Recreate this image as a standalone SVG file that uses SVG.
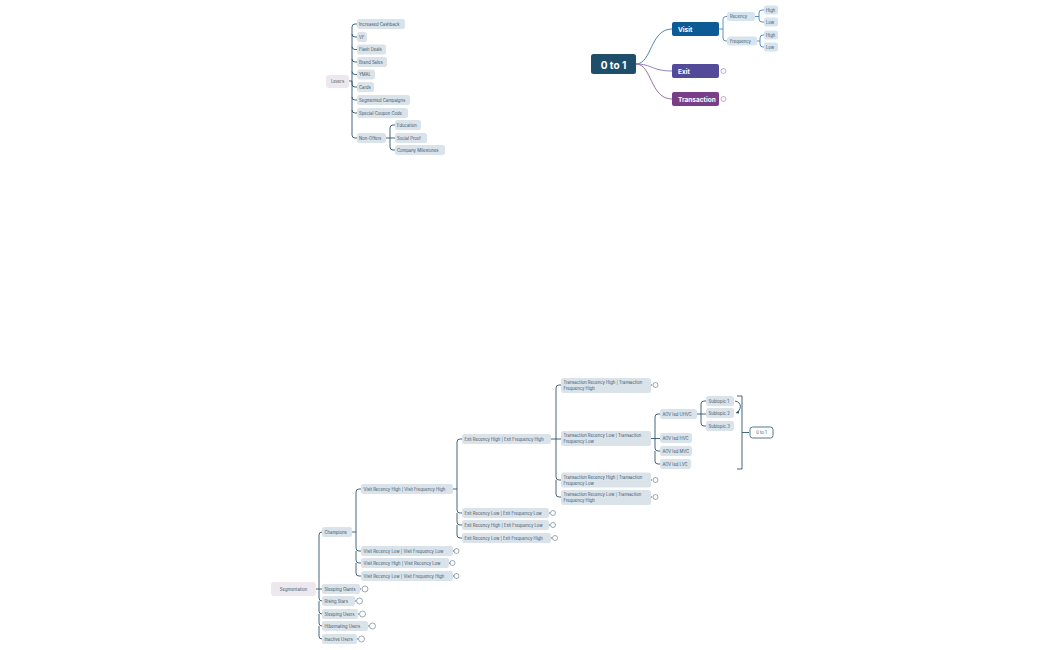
<svg xmlns="http://www.w3.org/2000/svg" width="1050" height="650" viewBox="0 0 1050 650">
<style>
.p{fill:#dbe3ea}
.t{font-family:Inter,"Liberation Sans",sans-serif;font-size:4.2px;fill:#3e5669;dominant-baseline:central}
.c{fill:none;stroke:#2f5570;stroke-width:0.9}
.o{fill:#fff;stroke:#5a7285;stroke-width:0.6}
.w{font-family:Inter,"Liberation Sans",sans-serif;font-weight:bold;fill:#fff;dominant-baseline:central}
</style>
<rect width="1050" height="650" fill="#fff"/>
<g id="connectors">
<path class="c" d="M349 81H352V27Q352 24 355 24H357M352 34Q352 37 355 37H357M352 46.5Q352 49.5 355 49.5H357M352 59Q352 62 355 62H357M352 71.5Q352 74.5 355 74.5H357M352 81V84Q352 87 355 87H357M352 97Q352 100 355 100H357M352 110Q352 113 355 113H357M352 135Q352 138 355 138H357M352 81V135"/>
<path class="c" d="M386 138H390V128Q390 125 393 125H395M390 138H395M390 138V147Q390 150 393 150H395"/>
<path d="M636 64C652 64 650 29 672 29" fill="none" stroke="#4a86b8" stroke-width="1"/>
<path d="M636 64C652 64 652 71 672 71" fill="none" stroke="#8a80c0" stroke-width="1"/>
<path d="M636 64C652 64 650 99 672 99" fill="none" stroke="#a070a8" stroke-width="1"/>
<path d="M719 29H723V19.5Q723 16.5 726 16.5H727M723 29V38Q723 41 726 41H727M755 16.5H759V13Q759 10 762 10H764M759 16.5V19Q759 22 762 22H764M757 41H760V38Q760 35 763 35H764M760 41V44Q760 47 763 47H764" fill="none" stroke="#4a86b8" stroke-width="0.9"/>
<path class="c" d="M316 589H319V535Q319 532 322 532H322M319 589H322M319 589V598Q319 601 322 601M319 601V611Q319 614 322 614M319 614V623Q319 626 322 626M319 626V636Q319 639 322 639"/>
<path class="c" d="M352 532H356V492Q356 489 359 489H361M356 532V548Q356 551 359 551H361M356 551V560Q356 563 359 563H361M356 563V573Q356 576 359 576H361"/>
<path class="c" d="M453 489H457V442Q457 439 460 439H462M457 489V510Q457 513 460 513H462M457 513V522Q457 525 460 525H462M457 525V535Q457 538 460 538H462"/>
<path class="c" d="M551 439H556V388Q556 385 559 385H561M556 439H561M556 439V477Q556 480 559 480H561M556 480V494Q556 497 559 497H561"/>
<path class="c" d="M651 438.5H655V417Q655 414 658 414H660M655 438.5H660M655 438V448Q655 451 658 451H660M655 451V461Q655 464 658 464H660"/>
<path class="c" d="M697 414H701V404Q701 401 704 401H706M701 414H706M701 414V423Q701 426 704 426H706"/>
<path class="c" d="M735 401C742 402 742 410 736 413"/>
<path d="M736 413l3 -2.5l0 3z" fill="#2f5570"/>
<path class="c" d="M737 396H742V469H737M742 432.5H749"/>
<path class="c" d="M453 551H454M449 563H450M453 576H454M360 589H361M355 601H356M358 614H359M368 626H369M357 639H358M549 513H550M549 525H550M551 538H552M651 385H652M651 480H652M651 497H652"/>
</g>
<g id="levers"><rect x="326" y="75" width="23" height="13" rx="3" fill="#ece8ee"/><text class="t" x="337.5" y="81.5" text-anchor="middle" font-size="4.8">Levers</text></g>
<g id="n-ic"><rect class="p" x="357" y="19" width="48" height="10" rx="2.5"/><text class="t" x="359" y="24">Increased Cashback</text></g>
<g id="n-vf"><rect class="p" x="357" y="32" width="10" height="10" rx="2.5"/><text class="t" x="359" y="37">VF</text></g>
<g id="n-fd"><rect class="p" x="357" y="44.5" width="29" height="10" rx="2.5"/><text class="t" x="359" y="49.5">Flash Deals</text></g>
<g id="n-bs"><rect class="p" x="357" y="57" width="30" height="10" rx="2.5"/><text class="t" x="359" y="62">Brand Sales</text></g>
<g id="n-ymal"><rect class="p" x="357" y="69.5" width="18" height="10" rx="2.5"/><text class="t" x="359" y="74.5">YMAL</text></g>
<g id="n-cards"><rect class="p" x="357" y="82" width="17" height="10" rx="2.5"/><text class="t" x="359" y="87">Cards</text></g>
<g id="n-sc"><rect class="p" x="357" y="95" width="53" height="10" rx="2.5"/><text class="t" x="359" y="100">Segmented Campaigns</text></g>
<g id="n-scc"><rect class="p" x="357" y="108" width="51" height="10" rx="2.5"/><text class="t" x="359" y="113">Special Coupon Code</text></g>
<g id="n-no"><rect class="p" x="357" y="133" width="29" height="10" rx="2.5"/><text class="t" x="359" y="138">Non-Offers</text></g>
<g id="n-edu"><rect class="p" x="395" y="120" width="26" height="10" rx="2.5"/><text class="t" x="397" y="125">Education</text></g>
<g id="n-sp"><rect class="p" x="395" y="133" width="32" height="10" rx="2.5"/><text class="t" x="397" y="138">Social Proof</text></g>
<g id="n-cm"><rect class="p" x="395" y="145" width="50" height="10" rx="2.5"/><text class="t" x="397" y="150">Company Milestones</text></g>

<g id="zero"><rect x="591" y="54" width="45" height="20" rx="2.5" fill="#1f4e6a"/><text class="w" x="613.5" y="64.5" text-anchor="middle" font-size="10">0 to 1</text></g>
<g id="visit"><rect x="672" y="22" width="47" height="14" rx="2" fill="#0e5a94"/><text class="w" x="678" y="29.5" font-size="6.5">Visit</text></g>
<g id="exit"><rect x="672" y="64" width="47" height="14" rx="2" fill="#544a9a"/><text class="w" x="678" y="71.5" font-size="6.5">Exit</text><circle cx="723.5" cy="71" r="2.5" fill="#fff" stroke="#8a80c0" stroke-width="0.6"/></g>
<g id="transaction"><rect x="672" y="92" width="47" height="14" rx="2" fill="#7a3d87"/><text class="w" x="678" y="99.5" font-size="6.5">Transaction</text><circle cx="723.5" cy="99" r="2.5" fill="#fff" stroke="#a070a8" stroke-width="0.6"/></g>
<g id="recency"><rect x="727" y="12" width="28" height="9" rx="2.5" fill="#d6e4f0"/><text class="t" x="730" y="16.5">Recency</text></g>
<g id="frequency"><rect x="727" y="36.5" width="30" height="9" rx="2.5" fill="#d6e4f0"/><text class="t" x="730" y="41">Frequency</text></g>
<g id="h1"><rect x="764" y="5.5" width="14" height="9" rx="2.5" fill="#d6e4f0"/><text class="t" x="766" y="10">High</text></g>
<g id="l1"><rect x="764" y="17.5" width="14" height="9" rx="2.5" fill="#d6e4f0"/><text class="t" x="766" y="22">Low</text></g>
<g id="h2"><rect x="764" y="30.5" width="14" height="9" rx="2.5" fill="#d6e4f0"/><text class="t" x="766" y="35">High</text></g>
<g id="l2"><rect x="764" y="42.5" width="14" height="9" rx="2.5" fill="#d6e4f0"/><text class="t" x="766" y="47">Low</text></g>

<g id="seg"><rect x="271" y="582" width="45" height="14" rx="3" fill="#ece8ee"/><text class="t" x="293.5" y="589.5" text-anchor="middle" font-size="5.2">Segmentation</text></g>
<g id="champ"><rect class="p" x="322" y="527" width="30" height="10" rx="2.5"/><text class="t" x="324.5" y="532">Champions</text></g>
<g id="sg"><rect class="p" x="322" y="584" width="38" height="10" rx="2.5"/><text class="t" x="324.5" y="589">Sleeping Giants</text><circle class="o" cx="365" cy="589" r="3"/></g>
<g id="rs"><rect class="p" x="322" y="596" width="33" height="10" rx="2.5"/><text class="t" x="324.5" y="601">Rising Stars</text><circle class="o" cx="359.5" cy="601" r="3"/></g>
<g id="su"><rect class="p" x="322" y="609" width="36" height="10" rx="2.5"/><text class="t" x="324.5" y="614">Sleeping Users</text><circle class="o" cx="362.5" cy="614" r="3"/></g>
<g id="hu"><rect class="p" x="322" y="621" width="46" height="10" rx="2.5"/><text class="t" x="324.5" y="626">Hibernating Users</text><circle class="o" cx="372.5" cy="626" r="3"/></g>
<g id="iu"><rect class="p" x="322" y="634" width="35" height="10" rx="2.5"/><text class="t" x="324.5" y="639">Inactive Users</text><circle class="o" cx="361.5" cy="639" r="3"/></g>

<g id="v1"><rect class="p" x="361" y="484" width="92" height="10" rx="2.5"/><text class="t" x="363.5" y="489">Visit Recency High | Visit Frequency High</text></g>
<g id="v2"><rect class="p" x="361" y="546" width="92" height="10" rx="2.5"/><text class="t" x="363.5" y="551">Visit Recency Low | Visit Frequency Low</text><circle class="o" cx="456.5" cy="551" r="2.5"/></g>
<g id="v3"><rect class="p" x="361" y="558" width="88" height="10" rx="2.5"/><text class="t" x="363.5" y="563">Visit Recency High | Visit Recency Low</text><circle class="o" cx="452.5" cy="563" r="2.5"/></g>
<g id="v4"><rect class="p" x="361" y="571" width="92" height="10" rx="2.5"/><text class="t" x="363.5" y="576">Visit Recency Low | Visit Frequency High</text><circle class="o" cx="456.5" cy="576" r="2.5"/></g>

<g id="e1"><rect class="p" x="462" y="434" width="89" height="10" rx="2.5"/><text class="t" x="464.5" y="439">Exit Recency High | Exit Frequency High</text></g>
<g id="e2"><rect class="p" x="462" y="508" width="87" height="10" rx="2.5"/><text class="t" x="464.5" y="513">Exit Recency Low | Exit Frequency Low</text><circle class="o" cx="553" cy="513" r="2.5"/></g>
<g id="e3"><rect class="p" x="462" y="520" width="87" height="10" rx="2.5"/><text class="t" x="464.5" y="525">Exit Recency High | Exit Frequency Low</text><circle class="o" cx="553" cy="525" r="2.5"/></g>
<g id="e4"><rect class="p" x="462" y="533" width="89" height="10" rx="2.5"/><text class="t" x="464.5" y="538">Exit Recency Low | Exit Frequency High</text><circle class="o" cx="555" cy="538" r="2.5"/></g>

<g id="t1"><rect class="p" x="561" y="378" width="90" height="15" rx="2.5"/><text class="t" x="563.5" y="382.5">Transaction Recency High | Transaction</text><text class="t" x="563.5" y="388.5">Frequency High</text><circle class="o" cx="655.5" cy="385" r="2.5"/></g>
<g id="t2"><rect class="p" x="561" y="431" width="90" height="15" rx="2.5"/><text class="t" x="563.5" y="435.5">Transaction Recency Low | Transaction</text><text class="t" x="563.5" y="441.5">Frequency Low</text></g>
<g id="t3"><rect class="p" x="561" y="472.5" width="90" height="15" rx="2.5"/><text class="t" x="563.5" y="477">Transaction Recency High | Transaction</text><text class="t" x="563.5" y="483">Frequency Low</text><circle class="o" cx="655.5" cy="480" r="2.5"/></g>
<g id="t4"><rect class="p" x="561" y="490" width="90" height="15" rx="2.5"/><text class="t" x="563.5" y="494.5">Transaction Recency Low | Transaction</text><text class="t" x="563.5" y="500.5">Frequency High</text><circle class="o" cx="655.5" cy="497" r="2.5"/></g>

<g id="a1"><rect class="p" x="660" y="409" width="37" height="10" rx="2.5"/><text class="t" x="662.5" y="414">AOV led UHVC</text></g>
<g id="a2"><rect class="p" x="660" y="433" width="32" height="10" rx="2.5"/><text class="t" x="662.5" y="438">AOV led HVC</text></g>
<g id="a3"><rect class="p" x="660" y="446" width="32" height="10" rx="2.5"/><text class="t" x="662.5" y="451">AOV led MVC</text></g>
<g id="a4"><rect class="p" x="660" y="459" width="31" height="10" rx="2.5"/><text class="t" x="662.5" y="464">AOV led LVC</text></g>

<g id="s1"><rect class="p" x="706" y="396" width="28" height="10" rx="2.5"/><text class="t" x="708.5" y="401">Subtopic 1</text></g>
<g id="s2"><rect class="p" x="706" y="408" width="28" height="10" rx="2.5"/><text class="t" x="708.5" y="413">Subtopic 2</text></g>
<g id="s3"><rect class="p" x="706" y="421" width="28" height="10" rx="2.5"/><text class="t" x="708.5" y="426">Subtopic 3</text></g>
<g id="summary"><rect x="750" y="427" width="23" height="11" rx="2.5" fill="#fff" stroke="#2f5570" stroke-width="0.8"/><text class="t" x="761.5" y="432.5" text-anchor="middle">0 to 1</text></g>
</svg>
